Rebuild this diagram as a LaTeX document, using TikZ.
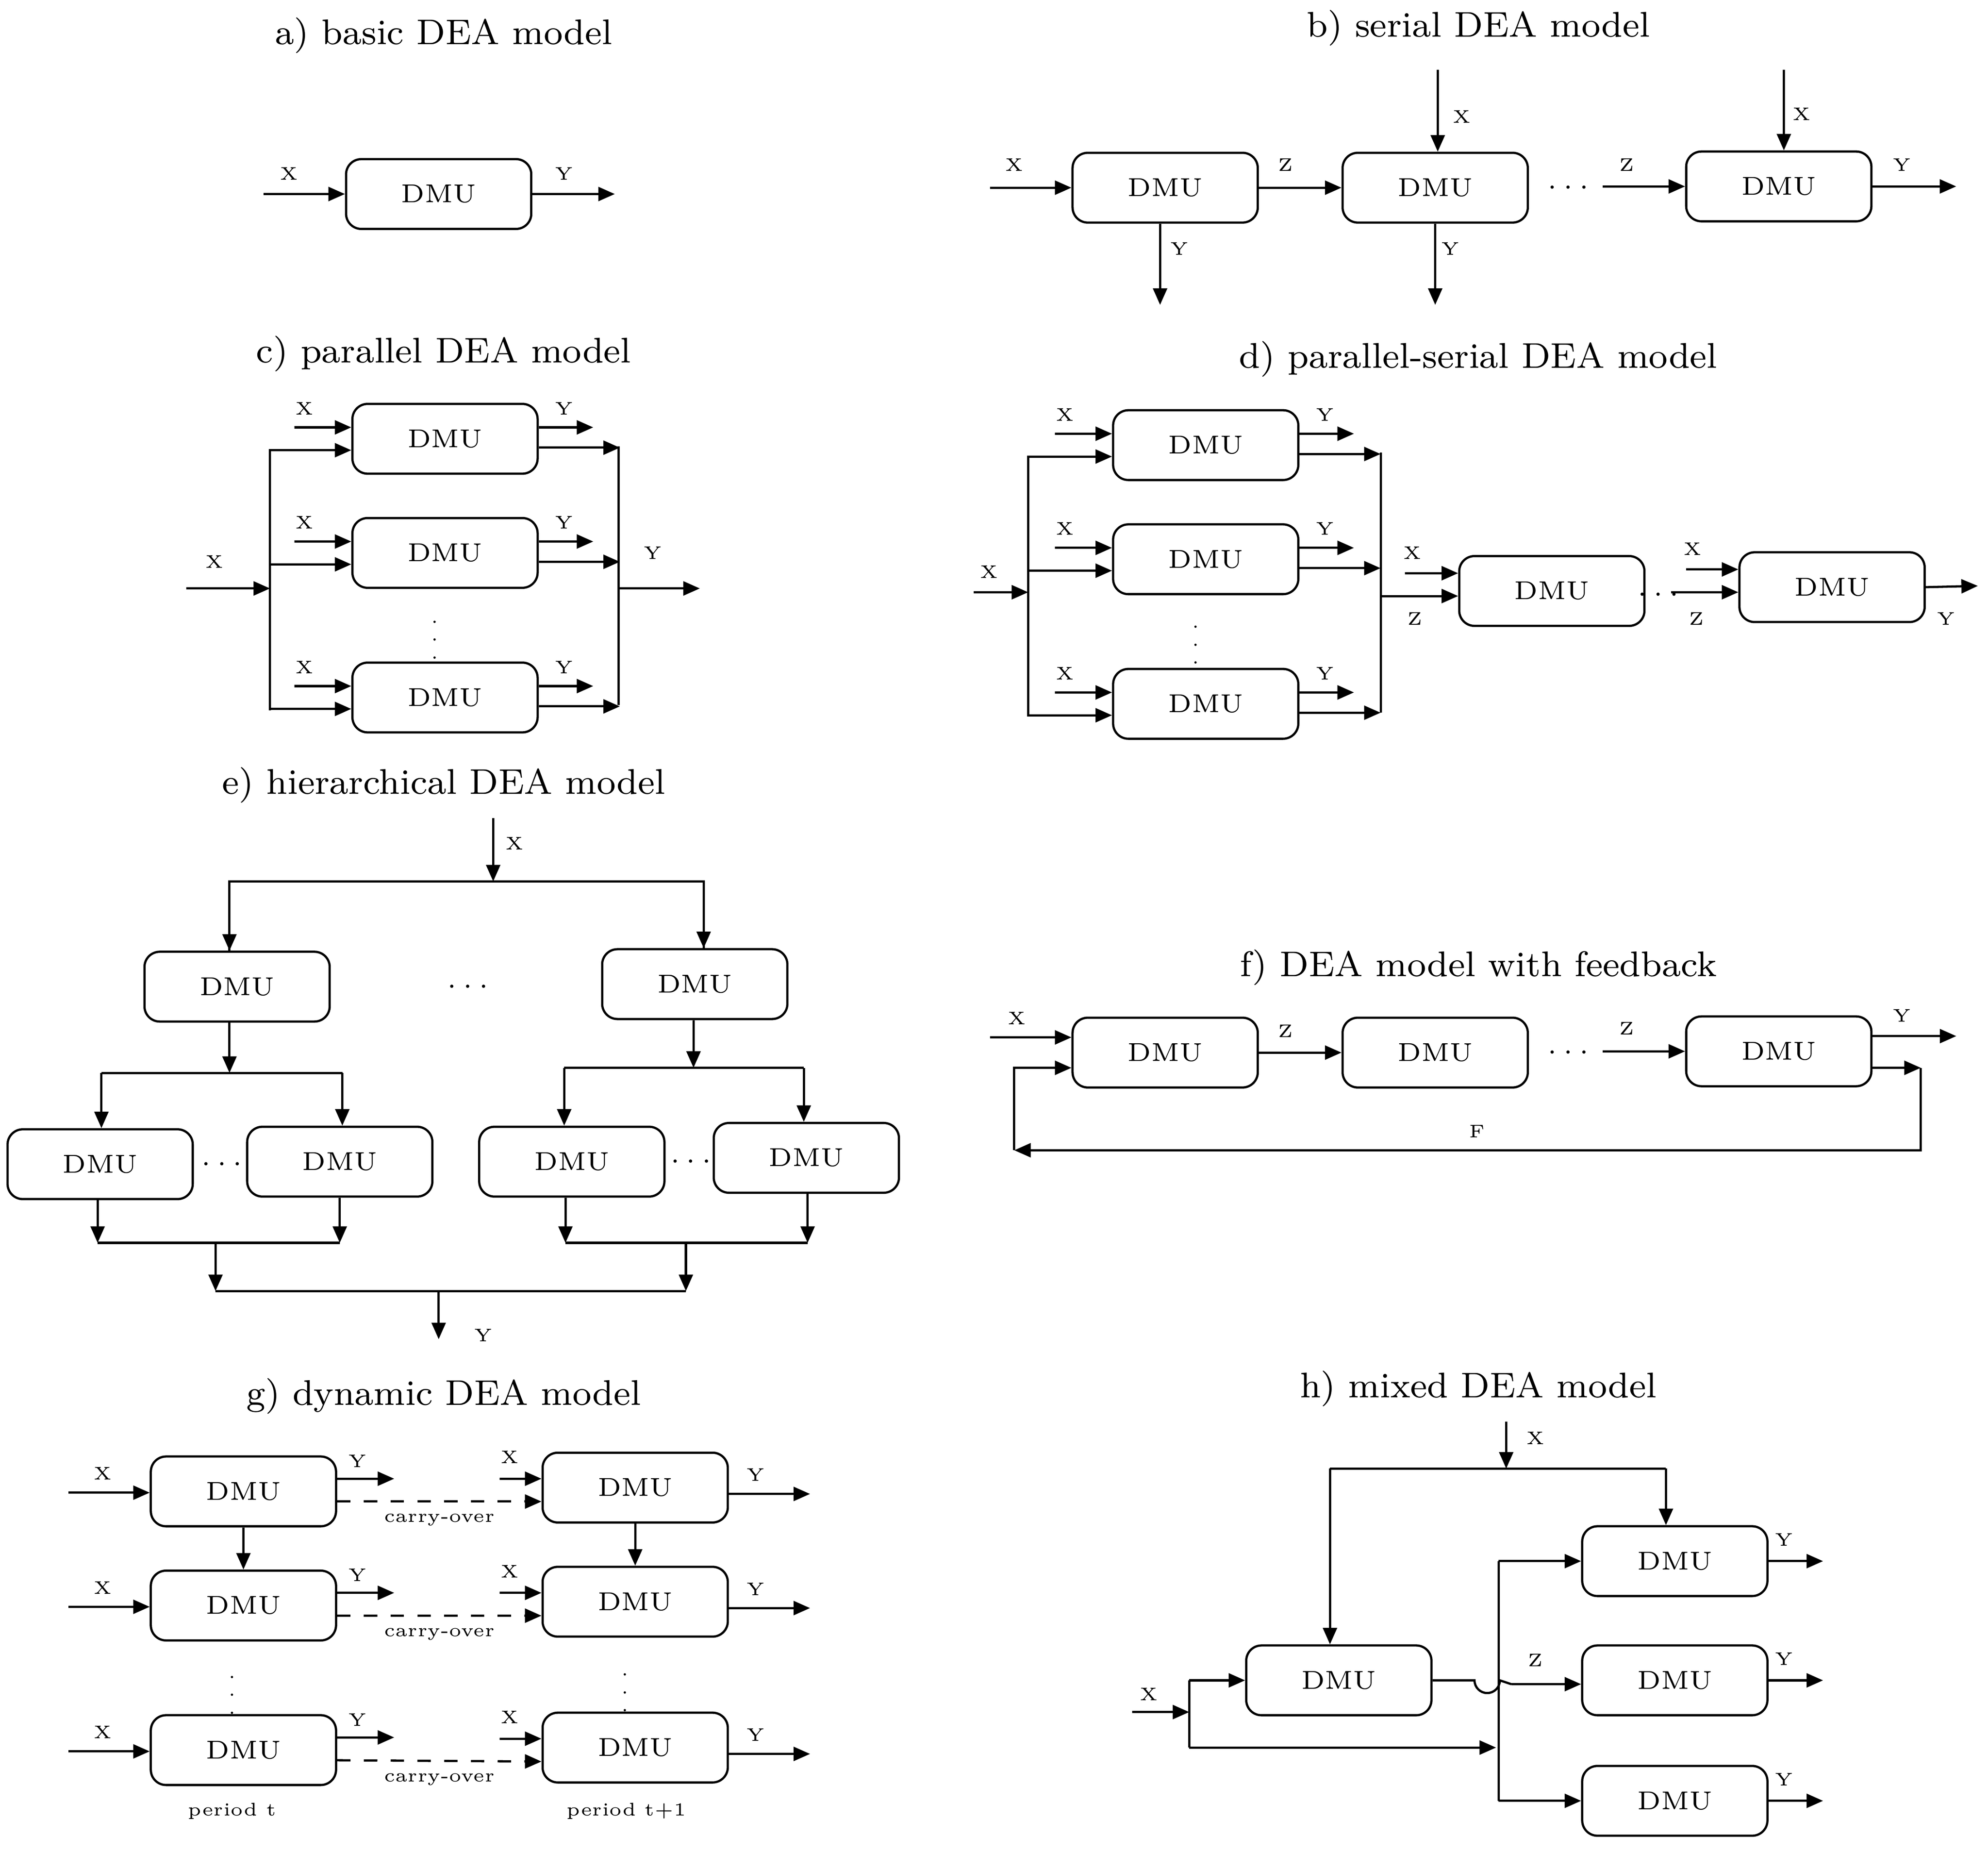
\documentclass[tikz,border=0pt]{standalone}
\usetikzlibrary{arrows.meta,calc}
\begin{document}
\begin{tikzpicture}[x=0.01cm,y=-0.01cm,line width=0.5pt,
  box/.style={draw,rounded corners=1.2mm,minimum width=1.46cm,minimum height=0.55cm,inner sep=0pt,font=\fontsize{5.8}{7}\selectfont},
  arr/.style={-{Triangle[length=1.3mm,width=1.1mm]}},
  ttl/.style={font=\fontsize{8}{10}\selectfont},
  lab/.style={font=\fontsize{4.1}{5}\selectfont,inner sep=0pt},
  dts/.style={font=\fontsize{6}{7}\selectfont,inner sep=0pt},
  vdts/.style={font=\fontsize{4.2}{5}\selectfont,inner sep=0pt}]
\useasboundingbox (0,0) rectangle (1568,1461);
% a)
\node[ttl] (ta) at (350,28) {a) basic DEA model};
\node[box] (a1) at (346,153) {DMU};
\coordinate (ain) at (208,153);
\draw[arr] (ain) -- (a1.west);
\node[lab] (ax) at (228,137) {X};
\draw[arr] (a1.east) -- ++(65,0);
\node[lab] (ay) at (445,137) {Y};
% b)
\node[ttl] (tb) at (1166,22) {b) serial DEA model};
\node[box] (b1) at (919,148) {DMU};
\node[box] (b2) at (1132,148) {DMU};
\node[box] (b3) at (1403,147) {DMU};
\node[dts] (bd) at (1237,148) {$\cdots$};
\coordinate (bin) at (781,148);
\draw[arr] (bin) -- (b1.west);
\node[lab] (bx) at (800,130) {X};
\draw[arr] (b1.east) -- (b2.west);
\node[lab] (bz1) at (1014,130) {Z};
\coordinate (bz) at (1264,147);
\draw[arr] (bz) -- (b3.west);
\node[lab] (bz2) at (1283,130) {Z};
\draw[arr] (b3.east) -- ++(66,0);
\node[lab] (by3) at (1500,130) {Y};
\draw[arr] ($(b1.south)+(-4,0)$) -- ++(0,64);
\node[lab] (by1) at (930,196) {Y};
\draw[arr] (b2.south) -- ++(0,64);
\node[lab] (by2) at (1144,196) {Y};
\coordinate (bx2) at (1134,55);
\draw[arr] (bx2) -- (bx2 |- b2.north);
\node[lab] (bxl2) at (1153,92) {X};
\coordinate (bx3) at (1407,55);
\draw[arr] (bx3) -- (bx3 |- b3.north);
\node[lab] (bxl3) at (1421,90) {X};
% c)
\node[ttl] (tc) at (350,279) {c) parallel DEA model};
\node[box] (c1) at (351,346) {DMU};
\node[box] (c2) at (351,436) {DMU};
\node[box] (c3) at (351,550) {DMU};
\node[vdts] (cd) at (343,494) {$\vdots$};
\coordinate (cin) at (147,464);
\coordinate (cl) at (213,464);
\draw[arr] (cin) -- (cl);
\node[lab] (cx) at (169,443) {X};
\draw (213,355) -- (213,560);
\draw (488,352) -- (488,556);
\foreach \n in {c1,c2,c3}{
  \draw[arr] ($(\n.west)+(-45,-9)$) -- ($(\n.west)+(0,-9)$);
  \draw[arr] ($(\n.west)+(-65,9)$) -- ($(\n.west)+(0,9)$);
  \draw[arr] ($(\n.east)+(0,-9)$) -- ++(43,0);
  \draw[arr] ($(\n.east)+(0,7)$) -- ++(64,0);
  \node[lab] at ($(\n.west)+(-37,-24)$) {X};
  \node[lab] at ($(\n.east)+(20,-24)$) {Y};
}
\draw[arr] (488,464) -- (552,464);
\node[lab] (cy) at (515,436) {Y};
% d)
\node[ttl] (td) at (1166,283) {d) parallel-serial DEA model};
\node[box] (d1) at (951,351) {DMU};
\node[box] (d2) at (951,441) {DMU};
\node[box] (d3) at (951,555) {DMU};
\node[vdts] (dd) at (943,498) {$\vdots$};
\coordinate (din) at (768,467);
\draw[arr] (din) -- (811,467);
\node[lab] (dx) at (780,451) {X};
\draw (811,360) -- (811,565);
\draw (1089,357) -- (1089,562);
\foreach \n in {d1,d2,d3}{
  \draw[arr] ($(\n.west)+(-45,-9)$) -- ($(\n.west)+(0,-9)$);
  \draw[arr] ($(\n.west)+(-67,9)$) -- ($(\n.west)+(0,9)$);
  \draw[arr] ($(\n.east)+(0,-9)$) -- ++(43,0);
  \draw[arr] ($(\n.east)+(0,7)$) -- ++(64,0);
  \node[lab] at ($(\n.west)+(-37,-24)$) {X};
  \node[lab] at ($(\n.east)+(20,-24)$) {Y};
}
\node[box] (d4) at (1224,466) {DMU};
\node[box] (d5) at (1445,463) {DMU};
\draw[arr] (1108,452) -- (d4.west |- 0,452);
\draw[arr] (1089,470) -- (d4.west |- 0,470);
\node[lab] (dx4) at (1114,436) {X};
\node[lab] (dz4) at (1116,488) {Z};
\node[dts] (dd2) at (1308,469) {$\cdots$};
\draw[arr] (1330,449) -- (d5.west |- 0,449);
\draw[arr] (1318,467) -- (d5.west |- 0,467);
\node[lab] (dx5) at (1335,433) {X};
\node[lab] (dz5) at (1338,488) {Z};
\draw[arr] (d5.east) -- (1560,462);
\node[lab] (dy5) at (1535,488) {Y};
% e)
\node[ttl] (te) at (350,619) {e) hierarchical DEA model};
\node[box] (e1) at (187,778) {DMU};
\node[box] (e2) at (548,776) {DMU};
\node[dts] (ed) at (369,778) {$\cdots$};
\node[box] (e3) at (79,918) {DMU};
\node[box] (e4) at (268,916) {DMU};
\node[dts] (ed1) at (175,918) {$\cdots$};
\node[box] (e5) at (451,916) {DMU};
\node[box] (e6) at (636,913) {DMU};
\node[dts] (ed2) at (545,916) {$\cdots$};
\coordinate (ex) at (389,645);
\draw[arr] (ex) -- (389,695);
\node[lab] (exl) at (406,665) {X};
\draw (181,750) -- (181,695) -- (555,695) -- (555,748);
\draw[arr] (181,695) -- (e1.north -| 181,0);
\draw[arr] (555,695) -- (e2.north -| 555,0);
\draw[arr] (e1.south -| 181,0) -- (181,846);
\draw (80,846) -- (270,846);
\draw[arr] (80,846) -- (e3.north -| 80,0);
\draw[arr] (270,846) -- (e4.north -| 270,0);
\draw[arr] (e2.south -| 547,0) -- (547,842);
\draw (445,842) -- (634,842);
\draw[arr] (445,842) -- (e5.north -| 445,0);
\draw[arr] (634,842) -- (e6.north -| 634,0);
\draw[arr] (e3.south -| 77,0) -- (77,980);
\draw[arr] (e4.south -| 268,0) -- (268,980);
\draw (77,980) -- (268,980);
\draw[arr] (e5.south -| 446,0) -- (446,980);
\draw[arr] (e6.south -| 637,0) -- (637,980);
\draw (446,980) -- (637,980);
\draw[arr] (170,980) -- (170,1018);
\draw[arr] (541,980) -- (541,1018);
\draw (170,1018) -- (541,1018);
\draw[arr] (346,1018) -- (346,1056);
\node[lab] (ey) at (381,1053) {Y};
% f)
\node[ttl] (tf) at (1166,763) {f) DEA model with feedback};
\node[box] (f1) at (919,830) {DMU};
\node[box] (f2) at (1132,830) {DMU};
\node[box] (f3) at (1403,829) {DMU};
\node[dts] (fd) at (1237,830) {$\cdots$};
\draw[arr] (781,818) -- (f1.west |- 0,818);
\node[lab] (fx) at (802,803) {X};
\draw[arr] (f1.east) -- (f2.west);
\node[lab] (fz1) at (1014,813) {Z};
\draw[arr] (1264,829) -- (f3.west);
\node[lab] (fz2) at (1283,811) {Z};
\draw[arr] (f3.east |- 0,817) -- (1543,817);
\node[lab] (fy) at (1500,801) {Y};
\draw[arr] (f3.east |- 0,842) -- (1515,842);
\draw[arr] (1515,842) -- (1515,907) -- (800,907);
\draw[arr] (800,907) -- (800,842) -- (f1.west |- 0,842);
\node[lab] (ff) at (1165,892) {F};
% g)
\node[ttl] (tg) at (350,1101) {g) dynamic DEA model};
\node[box] (g1) at (192,1176) {DMU};
\node[box] (g2) at (192,1266) {DMU};
\node[box] (g3) at (192,1380) {DMU};
\node[vdts] (gd1) at (183,1326) {$\vdots$};
\node[box] (g4) at (501,1173) {DMU};
\node[box] (g5) at (501,1263) {DMU};
\node[box] (g6) at (501,1378) {DMU};
\node[vdts] (gd2) at (493,1324) {$\vdots$};
\foreach \l/\r in {g1/g4,g2/g5,g3/g6}{
  \draw[arr] ($(\l.west)+(-64,1)$) -- ($(\l.west)+(0,1)$);
  \node[lab] at ($(\l.west)+(-37,-14)$) {X};
  \draw[arr] ($(\l.east)+(0,-10)$) -- ++(45,0);
  \node[lab] at ($(\l.east)+(16,-24)$) {Y};
  \draw[arr,dashed] ($(\l.east)+(0,8)$) -- ($(\r.west)+(0,11)$);
  \node[lab] at ($(\l.east)!0.5!(\r.west)+(0,24)$) {carry-over};
  \draw[arr] ($(\r.west)+(-33,-7)$) -- ($(\r.west)+(0,-7)$);
  \node[lab] at ($(\r.west)+(-25,-24)$) {X};
  \draw[arr] ($(\r.east)+(0,5)$) -- ++(64,0);
  \node[lab] at ($(\r.east)+(21,-10)$) {Y};
}
\draw[arr] (g1.south) -- (g2.north);
\draw[arr] (g4.south) -- (g5.north);
\node[lab] (gp1) at (183,1428) {period t};
\node[lab] (gp2) at (494,1428) {period t+1};
% h)
\node[ttl] (th) at (1166,1095) {h) mixed DEA model};
\node[box] (h1) at (1321,1231) {DMU};
\node[box] (h2) at (1321,1325) {DMU};
\node[box] (h3) at (1321,1420) {DMU};
\node[box] (h4) at (1056,1325) {DMU};
\draw[arr] (1188,1121) -- (1188,1158);
\node[lab] (hx) at (1211,1134) {X};
\draw (1049,1158) -- (1314,1158);
\draw[arr] (1314,1158) -- (h1.north -| 1314,0);
\draw[arr] (1049,1158) -- (h4.north -| 1049,0);
\draw[arr] (893,1350) -- (938,1350);
\node[lab] (hx2) at (906,1336) {X};
\draw (938,1378) -- (938,1325);
\draw[arr] (938,1325) -- (h4.west);
\draw[arr] (938,1378) -- (1180,1378);
\draw (1182,1231) -- (1182,1420);
\draw[arr] (1182,1231) -- (h1.west);
\draw[arr] (1182,1420) -- (h3.west);
\draw (h4.east) -- (1163,1325) arc[start angle=180,end angle=0,radius=10] -- (1192,1328);
\draw[arr] (1192,1328) -- (h2.west |- 0,1328);
\node[lab] (hz) at (1211,1309) {Z};
\foreach \n in {h1,h2,h3}{
  \draw[arr] (\n.east) -- ++(43,0);
  \node[lab] at ($(\n.east)+(12,-17)$) {Y};
}
\end{tikzpicture}
\end{document}
